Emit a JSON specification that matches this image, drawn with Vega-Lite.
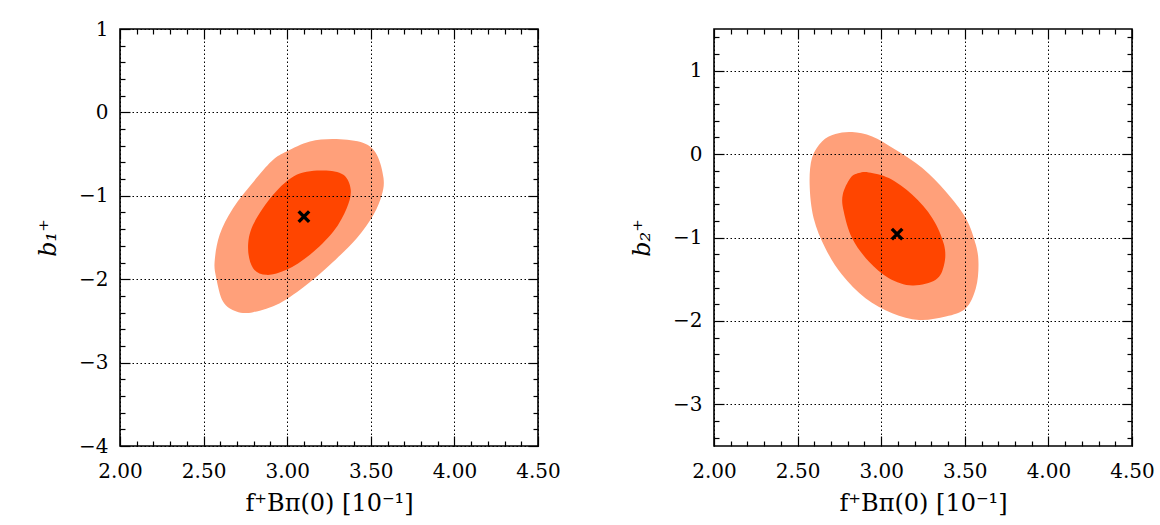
{
  "$schema": "https://vega.github.io/schema/vega-lite/v6.json",
  "background": "white",
  "padding": {"left": 35, "top": 18, "right": 0, "bottom": 0},
  "spacing": 67,
  "config": {
    "view": {"stroke": "black", "strokeWidth": 1.6},
    "font": "DejaVu Serif",
    "axis": {
      "labelFont": "DejaVu Serif", "labelFontSize": 20, "labelColor": "black",
      "titleFont": "DejaVu Serif", "titleFontSize": 24, "titleFontWeight": "normal", "titleColor": "black",
      "domain": false, "tickColor": "black", "tickWidth": 1.2,
      "labelOverlap": false, "labelFlush": false, "labelBound": false
    }
  },
  "datasets": {
    "contours": [
      {"panel": "b1", "level": "2sigma", "i": 1, "x": 2.996, "y": -0.468},
      {"panel": "b1", "level": "2sigma", "i": 2, "x": 3.136, "y": -0.348},
      {"panel": "b1", "level": "2sigma", "i": 3, "x": 3.296, "y": -0.32},
      {"panel": "b1", "level": "2sigma", "i": 4, "x": 3.456, "y": -0.368},
      {"panel": "b1", "level": "2sigma", "i": 5, "x": 3.536, "y": -0.508},
      {"panel": "b1", "level": "2sigma", "i": 6, "x": 3.576, "y": -0.788},
      {"panel": "b1", "level": "2sigma", "i": 7, "x": 3.566, "y": -0.988},
      {"panel": "b1", "level": "2sigma", "i": 8, "x": 3.516, "y": -1.228},
      {"panel": "b1", "level": "2sigma", "i": 9, "x": 3.416, "y": -1.508},
      {"panel": "b1", "level": "2sigma", "i": 10, "x": 3.256, "y": -1.828},
      {"panel": "b1", "level": "2sigma", "i": 11, "x": 3.116, "y": -2.068},
      {"panel": "b1", "level": "2sigma", "i": 12, "x": 2.956, "y": -2.288},
      {"panel": "b1", "level": "2sigma", "i": 13, "x": 2.796, "y": -2.396},
      {"panel": "b1", "level": "2sigma", "i": 14, "x": 2.696, "y": -2.388},
      {"panel": "b1", "level": "2sigma", "i": 15, "x": 2.616, "y": -2.268},
      {"panel": "b1", "level": "2sigma", "i": 16, "x": 2.576, "y": -1.988},
      {"panel": "b1", "level": "2sigma", "i": 17, "x": 2.566, "y": -1.788},
      {"panel": "b1", "level": "2sigma", "i": 18, "x": 2.596, "y": -1.468},
      {"panel": "b1", "level": "2sigma", "i": 19, "x": 2.676, "y": -1.148},
      {"panel": "b1", "level": "2sigma", "i": 20, "x": 2.816, "y": -0.788},
      {"panel": "b1", "level": "2sigma", "i": 21, "x": 2.916, "y": -0.568},
      {"panel": "b1", "level": "1sigma", "i": 1, "x": 3.216, "y": -0.696},
      {"panel": "b1", "level": "1sigma", "i": 2, "x": 3.336, "y": -0.748},
      {"panel": "b1", "level": "1sigma", "i": 3, "x": 3.38, "y": -0.928},
      {"panel": "b1", "level": "1sigma", "i": 4, "x": 3.356, "y": -1.148},
      {"panel": "b1", "level": "1sigma", "i": 5, "x": 3.276, "y": -1.428},
      {"panel": "b1", "level": "1sigma", "i": 6, "x": 3.136, "y": -1.708},
      {"panel": "b1", "level": "1sigma", "i": 7, "x": 2.996, "y": -1.888},
      {"panel": "b1", "level": "1sigma", "i": 8, "x": 2.876, "y": -1.948},
      {"panel": "b1", "level": "1sigma", "i": 9, "x": 2.796, "y": -1.868},
      {"panel": "b1", "level": "1sigma", "i": 10, "x": 2.766, "y": -1.628},
      {"panel": "b1", "level": "1sigma", "i": 11, "x": 2.796, "y": -1.348},
      {"panel": "b1", "level": "1sigma", "i": 12, "x": 2.916, "y": -0.988},
      {"panel": "b1", "level": "1sigma", "i": 13, "x": 3.056, "y": -0.748},
      {"panel": "b2", "level": "2sigma", "i": 1, "x": 2.826, "y": 0.264},
      {"panel": "b2", "level": "2sigma", "i": 2, "x": 2.946, "y": 0.212},
      {"panel": "b2", "level": "2sigma", "i": 3, "x": 3.086, "y": 0.052},
      {"panel": "b2", "level": "2sigma", "i": 4, "x": 3.246, "y": -0.168},
      {"panel": "b2", "level": "2sigma", "i": 5, "x": 3.386, "y": -0.448},
      {"panel": "b2", "level": "2sigma", "i": 6, "x": 3.506, "y": -0.768},
      {"panel": "b2", "level": "2sigma", "i": 7, "x": 3.566, "y": -1.088},
      {"panel": "b2", "level": "2sigma", "i": 8, "x": 3.582, "y": -1.328},
      {"panel": "b2", "level": "2sigma", "i": 9, "x": 3.566, "y": -1.608},
      {"panel": "b2", "level": "2sigma", "i": 10, "x": 3.506, "y": -1.848},
      {"panel": "b2", "level": "2sigma", "i": 11, "x": 3.386, "y": -1.948},
      {"panel": "b2", "level": "2sigma", "i": 12, "x": 3.226, "y": -1.988},
      {"panel": "b2", "level": "2sigma", "i": 13, "x": 3.066, "y": -1.908},
      {"panel": "b2", "level": "2sigma", "i": 14, "x": 2.906, "y": -1.728},
      {"panel": "b2", "level": "2sigma", "i": 15, "x": 2.766, "y": -1.448},
      {"panel": "b2", "level": "2sigma", "i": 16, "x": 2.666, "y": -1.128},
      {"panel": "b2", "level": "2sigma", "i": 17, "x": 2.596, "y": -0.768},
      {"panel": "b2", "level": "2sigma", "i": 18, "x": 2.572, "y": -0.368},
      {"panel": "b2", "level": "2sigma", "i": 19, "x": 2.586, "y": -0.048},
      {"panel": "b2", "level": "2sigma", "i": 20, "x": 2.646, "y": 0.152},
      {"panel": "b2", "level": "2sigma", "i": 21, "x": 2.726, "y": 0.24},
      {"panel": "b2", "level": "1sigma", "i": 1, "x": 2.926, "y": -0.22},
      {"panel": "b2", "level": "1sigma", "i": 2, "x": 3.046, "y": -0.288},
      {"panel": "b2", "level": "1sigma", "i": 3, "x": 3.186, "y": -0.488},
      {"panel": "b2", "level": "1sigma", "i": 4, "x": 3.306, "y": -0.768},
      {"panel": "b2", "level": "1sigma", "i": 5, "x": 3.376, "y": -1.088},
      {"panel": "b2", "level": "1sigma", "i": 6, "x": 3.376, "y": -1.328},
      {"panel": "b2", "level": "1sigma", "i": 7, "x": 3.326, "y": -1.508},
      {"panel": "b2", "level": "1sigma", "i": 8, "x": 3.186, "y": -1.576},
      {"panel": "b2", "level": "1sigma", "i": 9, "x": 3.046, "y": -1.488},
      {"panel": "b2", "level": "1sigma", "i": 10, "x": 2.926, "y": -1.288},
      {"panel": "b2", "level": "1sigma", "i": 11, "x": 2.826, "y": -1.008},
      {"panel": "b2", "level": "1sigma", "i": 12, "x": 2.776, "y": -0.688},
      {"panel": "b2", "level": "1sigma", "i": 13, "x": 2.77, "y": -0.488},
      {"panel": "b2", "level": "1sigma", "i": 14, "x": 2.816, "y": -0.288},
      {"panel": "b2", "level": "1sigma", "i": 15, "x": 2.866, "y": -0.228}
    ],
    "best": [
      {"panel": "b1", "x": 3.10, "y": -1.25},
      {"panel": "b2", "x": 3.095, "y": -0.96}
    ]
  },
  "hconcat": [
    {
      "width": 418, "height": 417,
      "resolve": {"axis": {"x": "independent", "y": "independent"}},
      "layer": [
        {
          "data": {"name": "contours"},
          "transform": [{"filter": "datum.panel === 'b1' && datum.level === '2sigma'"}],
          "mark": {"type": "line", "interpolate": "cardinal-closed", "fill": "#ffa07a", "stroke": null, "strokeWidth": 0},
          "encoding": {
            "order": {"field": "i", "type": "quantitative"},
            "x": {"field": "x", "type": "quantitative", "scale": {"domain": [2, 4.5], "nice": false, "zero": false},
              "axis": {"orient": "bottom", "zindex": 1, "title": "f⁺Bπ(0) [10⁻¹]", "titlePadding": 5,
                "values": [2.0,2.1,2.2,2.3,2.4,2.5,2.6,2.7,2.8,2.9,3.0,3.1,3.2,3.3,3.4,3.5,3.6,3.7,3.8,3.9,4.0,4.1,4.2,4.3,4.4,4.5],
                "labelExpr": "abs(datum.value*2 - round(datum.value*2)) < 1e-6 ? format(datum.value, '.2f') : ''",
                "tickSize": {"condition": {"test": "abs(datum.value*2 - round(datum.value*2)) < 1e-6", "value": -10}, "value": -5},
                "labelPadding": 25,
                "grid": true, "gridColor": "black", "gridWidth": 1, "gridDash": [1.5, 2.5],
                "gridOpacity": {"condition": {"test": "abs(datum.value*2 - round(datum.value*2)) < 1e-6", "value": 1}, "value": 0}}},
            "y": {"field": "y", "type": "quantitative", "scale": {"domain": [-4, 1], "nice": false, "zero": false},
              "axis": {"orient": "left", "zindex": 1, "title": "b₁⁺", "titleFontStyle": "italic", "titlePadding": 18,
                "values": [-4.0,-3.8,-3.6,-3.4,-3.2,-3.0,-2.8,-2.6,-2.4,-2.2,-2.0,-1.8,-1.6,-1.4,-1.2,-1.0,-0.8,-0.6,-0.4,-0.2,0.0,0.2,0.4,0.6,0.8,1.0],
                "labelExpr": "abs(datum.value - round(datum.value)) < 1e-6 ? format(round(datum.value), 'd') : ''",
                "tickSize": {"condition": {"test": "abs(datum.value - round(datum.value)) < 1e-6", "value": -10}, "value": -5},
                "labelPadding": 22,
                "grid": true, "gridColor": "black", "gridWidth": 1, "gridDash": [1.5, 2.5],
                "gridOpacity": {"condition": {"test": "abs(datum.value - round(datum.value)) < 1e-6", "value": 1}, "value": 0}}}
          }
        },
        {
          "data": {"name": "contours"},
          "transform": [{"filter": "datum.panel === 'b1' && datum.level === '1sigma'"}],
          "mark": {"type": "line", "interpolate": "cardinal-closed", "fill": "#ff4500", "stroke": null, "strokeWidth": 0},
          "encoding": {
            "order": {"field": "i", "type": "quantitative"},
            "x": {"field": "x", "type": "quantitative",
              "axis": {"orient": "top", "zindex": 1, "title": null, "labels": false, "grid": false,
                "values": [2.0,2.1,2.2,2.3,2.4,2.5,2.6,2.7,2.8,2.9,3.0,3.1,3.2,3.3,3.4,3.5,3.6,3.7,3.8,3.9,4.0,4.1,4.2,4.3,4.4,4.5],
                "tickSize": {"condition": {"test": "abs(datum.value*2 - round(datum.value*2)) < 1e-6", "value": -10}, "value": -5}}},
            "y": {"field": "y", "type": "quantitative",
              "axis": {"orient": "right", "zindex": 1, "title": null, "labels": false, "grid": false,
                "values": [-4.0,-3.8,-3.6,-3.4,-3.2,-3.0,-2.8,-2.6,-2.4,-2.2,-2.0,-1.8,-1.6,-1.4,-1.2,-1.0,-0.8,-0.6,-0.4,-0.2,0.0,0.2,0.4,0.6,0.8,1.0],
                "tickSize": {"condition": {"test": "abs(datum.value - round(datum.value)) < 1e-6", "value": -10}, "value": -5}}}
          }
        },
        {
          "data": {"name": "best"},
          "transform": [{"filter": "datum.panel === 'b1'"}],
          "mark": {"type": "point", "shape": "M-1,-1L1,1M-1,1L1,-1", "filled": false, "stroke": "black", "strokeWidth": 3.4, "size": 110, "opacity": 1},
          "encoding": {
            "x": {"field": "x", "type": "quantitative", "axis": null},
            "y": {"field": "y", "type": "quantitative", "axis": null}
          }
        }
      ]
    },
    {
      "width": 418, "height": 417,
      "resolve": {"axis": {"x": "independent", "y": "independent"}},
      "layer": [
        {
          "data": {"name": "contours"},
          "transform": [{"filter": "datum.panel === 'b2' && datum.level === '2sigma'"}],
          "mark": {"type": "line", "interpolate": "cardinal-closed", "fill": "#ffa07a", "stroke": null, "strokeWidth": 0},
          "encoding": {
            "order": {"field": "i", "type": "quantitative"},
            "x": {"field": "x", "type": "quantitative", "scale": {"domain": [2, 4.5], "nice": false, "zero": false},
              "axis": {"orient": "bottom", "zindex": 1, "title": "f⁺Bπ(0) [10⁻¹]", "titlePadding": 5,
                "values": [2.0,2.1,2.2,2.3,2.4,2.5,2.6,2.7,2.8,2.9,3.0,3.1,3.2,3.3,3.4,3.5,3.6,3.7,3.8,3.9,4.0,4.1,4.2,4.3,4.4,4.5],
                "labelExpr": "abs(datum.value*2 - round(datum.value*2)) < 1e-6 ? format(datum.value, '.2f') : ''",
                "tickSize": {"condition": {"test": "abs(datum.value*2 - round(datum.value*2)) < 1e-6", "value": -10}, "value": -5},
                "labelPadding": 25,
                "grid": true, "gridColor": "black", "gridWidth": 1, "gridDash": [1.5, 2.5],
                "gridOpacity": {"condition": {"test": "abs(datum.value*2 - round(datum.value*2)) < 1e-6", "value": 1}, "value": 0}}},
            "y": {"field": "y", "type": "quantitative", "scale": {"domain": [-3.5, 1.5], "nice": false, "zero": false},
              "axis": {"orient": "left", "zindex": 1, "title": "b₂⁺", "titleFontStyle": "italic", "titlePadding": 18,
                "values": [-3.4,-3.2,-3.0,-2.8,-2.6,-2.4,-2.2,-2.0,-1.8,-1.6,-1.4,-1.2,-1.0,-0.8,-0.6,-0.4,-0.2,0.0,0.2,0.4,0.6,0.8,1.0,1.2,1.4],
                "labelExpr": "abs(datum.value - round(datum.value)) < 1e-6 ? format(round(datum.value), 'd') : ''",
                "tickSize": {"condition": {"test": "abs(datum.value - round(datum.value)) < 1e-6", "value": -10}, "value": -5},
                "labelPadding": 22,
                "grid": true, "gridColor": "black", "gridWidth": 1, "gridDash": [1.5, 2.5],
                "gridOpacity": {"condition": {"test": "abs(datum.value - round(datum.value)) < 1e-6", "value": 1}, "value": 0}}}
          }
        },
        {
          "data": {"name": "contours"},
          "transform": [{"filter": "datum.panel === 'b2' && datum.level === '1sigma'"}],
          "mark": {"type": "line", "interpolate": "cardinal-closed", "fill": "#ff4500", "stroke": null, "strokeWidth": 0},
          "encoding": {
            "order": {"field": "i", "type": "quantitative"},
            "x": {"field": "x", "type": "quantitative",
              "axis": {"orient": "top", "zindex": 1, "title": null, "labels": false, "grid": false,
                "values": [2.0,2.1,2.2,2.3,2.4,2.5,2.6,2.7,2.8,2.9,3.0,3.1,3.2,3.3,3.4,3.5,3.6,3.7,3.8,3.9,4.0,4.1,4.2,4.3,4.4,4.5],
                "tickSize": {"condition": {"test": "abs(datum.value*2 - round(datum.value*2)) < 1e-6", "value": -10}, "value": -5}}},
            "y": {"field": "y", "type": "quantitative",
              "axis": {"orient": "right", "zindex": 1, "title": null, "labels": false, "grid": false,
                "values": [-3.4,-3.2,-3.0,-2.8,-2.6,-2.4,-2.2,-2.0,-1.8,-1.6,-1.4,-1.2,-1.0,-0.8,-0.6,-0.4,-0.2,0.0,0.2,0.4,0.6,0.8,1.0,1.2,1.4],
                "tickSize": {"condition": {"test": "abs(datum.value - round(datum.value)) < 1e-6", "value": -10}, "value": -5}}}
          }
        },
        {
          "data": {"name": "best"},
          "transform": [{"filter": "datum.panel === 'b2'"}],
          "mark": {"type": "point", "shape": "M-1,-1L1,1M-1,1L1,-1", "filled": false, "stroke": "black", "strokeWidth": 3.4, "size": 110, "opacity": 1},
          "encoding": {
            "x": {"field": "x", "type": "quantitative", "axis": null},
            "y": {"field": "y", "type": "quantitative", "axis": null}
          }
        }
      ]
    }
  ]
}
